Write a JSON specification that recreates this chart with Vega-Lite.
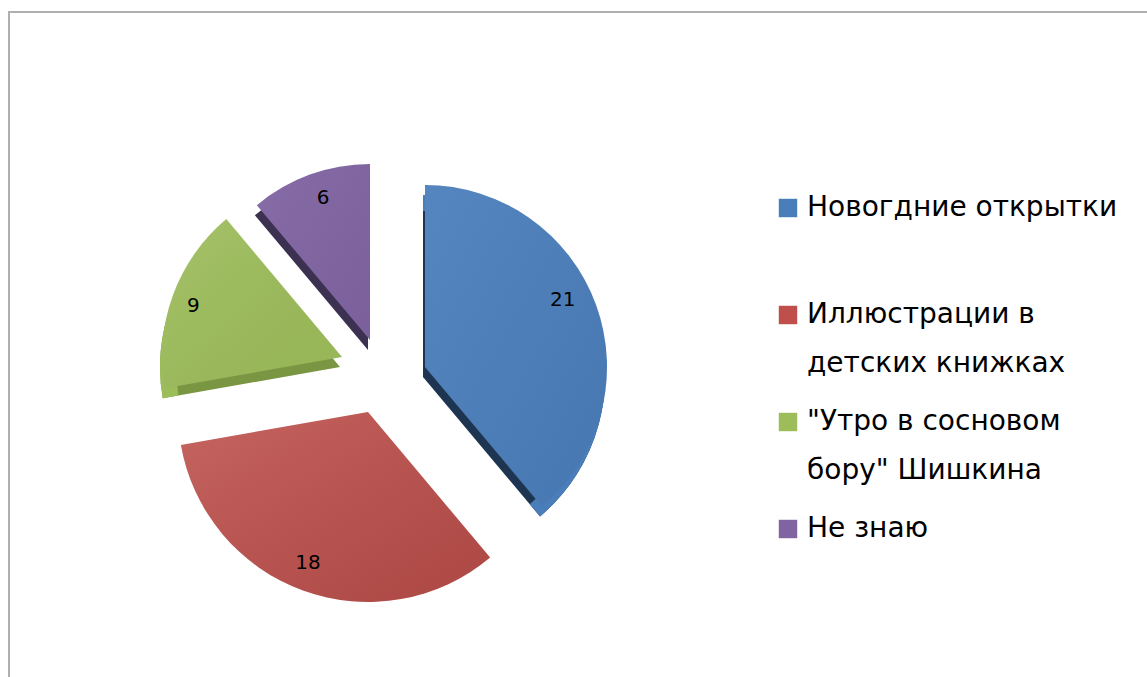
{
  "$schema": "https://vega.github.io/schema/vega-lite/v6.json",
  "width": 1147,
  "height": 677,
  "autosize": {"type": "fit", "contains": "padding"},
  "padding": {"left": 9, "top": 12, "right": -10, "bottom": -10},
  "background": "white",
  "config": {
    "view": {"stroke": "#AFAFAF", "strokeWidth": 2},
    "style": {"guide-label": {"lineHeight": 49}}
  },
  "data": {
    "values": [
      {"cat": "Новогдние открытки", "value": 21, "order": 1},
      {"cat": "Иллюстрации в детских книжках", "value": 18, "order": 2},
      {"cat": "\"Утро в сосновом бору\" Шишкина", "value": 9, "order": 3},
      {"cat": "Не знаю", "value": 6, "order": 4}
    ]
  },
  "layer": [
    {"mark": {"type": "point", "opacity": 0, "size": 0},
     "encoding": {
       "x": {"field": "value", "type": "quantitative", "axis": null},
       "y": {"field": "order", "type": "quantitative", "axis": null}
     }},
    {
      "encoding": {
        "theta": {"field": "value", "type": "quantitative", "stack": true},
        "order": {"field": "order", "type": "quantitative"},
        "detail": {"field": "cat", "type": "nominal"}
      },
      "layer": [
        {"mark": {"type": "arc", "outerRadius": 182, "color": "#1E3551", "xOffset": -160, "yOffset": 27.5},
         "encoding": {"opacity": {"condition": {"test": "datum.order === 1", "value": 1}, "value": 0}}},
        {"mark": {"type": "arc", "outerRadius": 180, "color": "#7A9642", "xOffset": -243, "yOffset": 17.5},
         "encoding": {"opacity": {"condition": {"test": "datum.order === 3", "value": 1}, "value": 0}}},
        {"mark": {"type": "arc", "outerRadius": 176, "color": "#3D3152", "xOffset": -215, "yOffset": 0.5},
         "encoding": {"opacity": {"condition": {"test": "datum.order === 4", "value": 1}, "value": 0}}},

        {"mark": {"type": "arc", "outerRadius": 182, "innerRadius": 166, "xOffset": -160, "yOffset": 27.5},
         "encoding": {"color": {"field": "cat", "type": "nominal"}, "opacity": {"condition": {"test": "datum.order === 1", "value": 1}, "value": 0}}},
        {"mark": {"type": "arc", "outerRadius": 180, "innerRadius": 164, "xOffset": -243, "yOffset": 17.5},
         "encoding": {"color": {"field": "cat", "type": "nominal"}, "opacity": {"condition": {"test": "datum.order === 3", "value": 1}, "value": 0}}},

        {"mark": {"type": "arc", "outerRadius": 182, "xOffset": -158, "yOffset": 17.5},
         "encoding": {
           "color": {
             "field": "cat", "type": "nominal",
             "scale": {
               "domain": ["Новогдние открытки", "Иллюстрации в детских книжках", "\"Утро в сосновом бору\" Шишкина", "Не знаю"],
               "range": ["#4A7EBB", "#BE4F4B", "#9DBD5A", "#8064A2"]
             },
             "legend": {
               "title": null,
               "orient": "none",
               "legendX": 765,
               "legendY": 182,
               "symbolType": "square",
               "symbolSize": 340,
               "symbolStrokeWidth": 0,
               "labelFont": "DejaVu Sans",
               "labelFontSize": 28,
               "labelColor": "#000000",
               "labelOffset": 5,
               "labelLimit": 0,
               "rowPadding": 30,
               "labelExpr": "datum.label === 'Иллюстрации в детских книжках' ? ['Иллюстрации в', 'детских книжках'] : datum.label === 'Новогдние открытки' ? ['Новогдние открытки', ' '] : datum.label === 'Не знаю' ? datum.label : ['\"Утро в сосновом', 'бору\" Шишкина']"
             }
           },
           "opacity": {"condition": {"test": "datum.order === 1", "value": 1}, "value": 0}}},
        {"mark": {"type": "arc", "outerRadius": 190, "xOffset": -215, "yOffset": 62.5},
         "encoding": {"color": {"field": "cat", "type": "nominal"}, "opacity": {"condition": {"test": "datum.order === 2", "value": 1}, "value": 0}}},
        {"mark": {"type": "arc", "outerRadius": 180, "xOffset": -241, "yOffset": 7.5},
         "encoding": {"color": {"field": "cat", "type": "nominal"}, "opacity": {"condition": {"test": "datum.order === 3", "value": 1}, "value": 0}}},
        {"mark": {"type": "arc", "outerRadius": 176, "xOffset": -213, "yOffset": -9.5},
         "encoding": {"color": {"field": "cat", "type": "nominal"}, "opacity": {"condition": {"test": "datum.order === 4", "value": 1}, "value": 0}}},

        {"mark": {"type": "arc", "outerRadius": 182, "xOffset": -158, "yOffset": 17.5,
                  "color": {"gradient": "linear", "x1": 0, "y1": 0, "x2": 1, "y2": 1, "stops": [{"offset": 0, "color": "rgba(255,255,255,0.06)"}, {"offset": 1, "color": "rgba(0,0,0,0.06)"}]}},
         "encoding": {"opacity": {"condition": {"test": "datum.order === 1", "value": 1}, "value": 0}}},
        {"mark": {"type": "arc", "outerRadius": 190, "xOffset": -215, "yOffset": 62.5,
                  "color": {"gradient": "linear", "x1": 0, "y1": 0, "x2": 1, "y2": 1, "stops": [{"offset": 0, "color": "rgba(255,255,255,0.12)"}, {"offset": 1, "color": "rgba(0,0,0,0.09)"}]}},
         "encoding": {"opacity": {"condition": {"test": "datum.order === 2", "value": 1}, "value": 0}}},
        {"mark": {"type": "arc", "outerRadius": 180, "xOffset": -241, "yOffset": 7.5,
                  "color": {"gradient": "linear", "x1": 0, "y1": 0, "x2": 1, "y2": 1, "stops": [{"offset": 0, "color": "rgba(255,255,255,0.1)"}, {"offset": 1, "color": "rgba(0,0,0,0.03)"}]}},
         "encoding": {"opacity": {"condition": {"test": "datum.order === 3", "value": 1}, "value": 0}}},
        {"mark": {"type": "arc", "outerRadius": 176, "xOffset": -213, "yOffset": -9.5,
                  "color": {"gradient": "linear", "x1": 0, "y1": 0, "x2": 1, "y2": 1, "stops": [{"offset": 0, "color": "rgba(255,255,255,0.06)"}, {"offset": 1, "color": "rgba(0,0,0,0.04)"}]}},
         "encoding": {"opacity": {"condition": {"test": "datum.order === 4", "value": 1}, "value": 0}}},

        {"mark": {"type": "text", "radius": 155, "font": "DejaVu Sans", "fontSize": 20, "color": "#000000", "xOffset": -166, "yOffset": 3.5},
         "encoding": {"text": {"field": "value", "type": "quantitative"}, "opacity": {"condition": {"test": "datum.order === 1", "value": 1}, "value": 0}}},
        {"mark": {"type": "text", "radius": 155, "font": "DejaVu Sans", "fontSize": 20, "color": "#000000", "xOffset": -222, "yOffset": 67.5},
         "encoding": {"text": {"field": "value", "type": "quantitative"}, "opacity": {"condition": {"test": "datum.order === 2", "value": 1}, "value": 0}}},
        {"mark": {"type": "text", "radius": 155, "font": "DejaVu Sans", "fontSize": 20, "color": "#000000", "xOffset": -244, "yOffset": 9.5},
         "encoding": {"text": {"field": "value", "type": "quantitative"}, "opacity": {"condition": {"test": "datum.order === 3", "value": 1}, "value": 0}}},
        {"mark": {"type": "text", "radius": 155, "font": "DejaVu Sans", "fontSize": 20, "color": "#000000", "xOffset": -207, "yOffset": -5.5},
         "encoding": {"text": {"field": "value", "type": "quantitative"}, "opacity": {"condition": {"test": "datum.order === 4", "value": 1}, "value": 0}}}
      ]
    }
  ]
}
